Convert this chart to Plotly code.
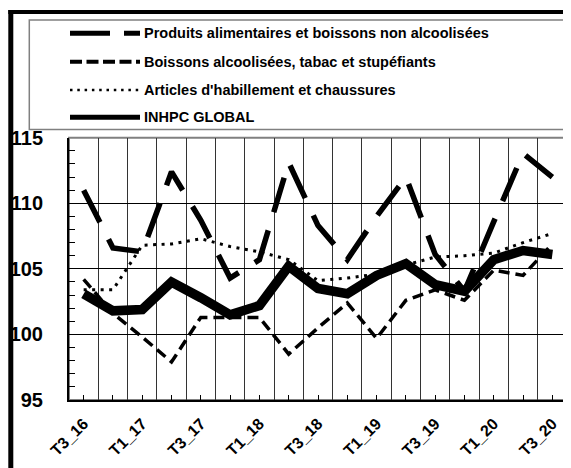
import plotly.graph_objects as go

# ---------------- data ----------------
categories = ["T3_16", "T4_16", "T1_17", "T2_17", "T3_17", "T4_17", "T1_18", "T2_18",
              "T3_18", "T4_18", "T1_19", "T2_19", "T3_19", "T4_19", "T1_20", "T2_20", "T3_20"]
food = [111.0, 106.6, 106.3, 112.4, 108.7, 104.3, 105.7, 113.1, 108.3, 105.7,
        109.0, 112.0, 106.1, 103.3, 108.6, 113.8, 112.0]
alcohol = [104.2, 101.6, 99.8, 97.9, 101.3, 101.3, 101.3, 98.5, 100.5, 102.4,
           99.7, 102.6, 103.4, 102.6, 104.9, 104.5, 106.9]
clothing = [103.4, 103.4, 106.8, 106.9, 107.3, 106.7, 106.3, 105.7, 104.1, 104.3,
            104.6, 105.3, 105.9, 106.0, 106.2, 107.0, 107.7]
global_idx = [103.1, 101.8, 101.9, 104.0, 102.8, 101.5, 102.2, 105.2, 103.5, 103.1,
              104.5, 105.4, 103.8, 103.3, 105.7, 106.4, 106.1]
series_names = ["Produits alimentaires et boissons non alcoolisées",
                "Boissons alcoolisées, tabac et stupéfiants",
                "Articles d'habillement et chaussures",
                "INHPC GLOBAL"]
y_ticks = [95, 100, 105, 110, 115]

# page has an 8px body margin: the figure is sized to fill the rest of the window
OFF = 8
W, H = 571 - OFF, 468 - OFF
FONT = "Liberation Sans, Arial, sans-serif"


def px(x):
    return (x - OFF) / W


def py(y):
    return 1 - (y - OFF) / H


xs = list(range(len(categories)))
ticktext = [c if i % 2 == 0 else "" for i, c in enumerate(categories)]

fig = go.Figure()
fig.add_trace(go.Scatter(x=xs, y=global_idx, mode="lines", name=series_names[3],
                         line=dict(color="black", width=9.5)))
fig.add_trace(go.Scatter(x=xs, y=food, mode="lines", name=series_names[0],
                         line=dict(color="black", width=5.5, dash="36px,19px")))
fig.add_trace(go.Scatter(x=xs, y=alcohol, mode="lines", name=series_names[1],
                         line=dict(color="black", width=3.5, dash="11px,6px")))
fig.add_trace(go.Scatter(x=xs, y=clothing, mode="lines", name=series_names[2],
                         line=dict(color="black", width=3, dash="3px,5.5px")))

shapes = []
# outer frame (thick black left and top border)
shapes.append(dict(type="line", xref="paper", yref="paper", x0=px(10.8), x1=px(10.8),
                   y0=py(10), y1=py(468), line=dict(color="black", width=5), layer="above"))
shapes.append(dict(type="line", xref="paper", yref="paper", x0=px(8.3), x1=px(571),
                   y0=py(12), y1=py(12), line=dict(color="black", width=4), layer="above"))
# plot-area gray frame
shapes.append(dict(type="rect", xref="x domain", yref="y domain", x0=0, x1=1, y0=0, y1=1,
                   line=dict(color="#808080", width=2), layer="below"))
# legend box
shapes.append(dict(type="rect", xref="paper", yref="paper", x0=px(29.3), x1=px(571),
                   y0=py(129.5), y1=py(20), line=dict(color="#808080", width=1.5),
                   fillcolor="white", layer="above"))
# legend samples
legend_rows = [33.3, 61.7, 90.0, 117.3]
sample_styles = [dict(width=5, dash="40px,14px"),
                 dict(width=4, dash="12px,4.5px"),
                 dict(width=2.5, dash="2.5px,4.8px"),
                 dict(width=5, dash="solid")]
for yrow, st in zip(legend_rows, sample_styles):
    shapes.append(dict(type="line", xref="paper", yref="paper", x0=px(70), x1=px(140),
                       y0=py(yrow), y1=py(yrow),
                       line=dict(color="black", width=st["width"], dash=st["dash"]),
                       layer="above"))

annotations = []
for yrow, name in zip(legend_rows, series_names):
    annotations.append(dict(xref="paper", yref="paper", x=px(142), y=py(yrow),
                            xanchor="left", yanchor="middle", text=name, showarrow=False,
                            font=dict(family=FONT, size=14.5, color="black", weight="bold")))

fig.update_layout(
    width=W, height=H,
    margin=dict(l=0, r=0, t=0, b=0, pad=0, autoexpand=False),
    paper_bgcolor="white", plot_bgcolor="white",
    showlegend=False,
    shapes=shapes, annotations=annotations,
    xaxis=dict(
        domain=[px(69), px(567)],
        range=[-0.5, len(categories) - 0.5],
        automargin=False,
        tickmode="array", tickvals=xs, ticktext=ticktext,
        tickangle=-45,
        ticks="inside", ticklen=5, tickcolor="black", tickwidth=1,
        tickfont=dict(family=FONT, size=16, color="black", weight="bold"),
        ticklabelstandoff=6,
        showgrid=False, zeroline=False,
        showline=True, linecolor="black", linewidth=2,
        minor=dict(tickmode="linear", tick0=0.5, dtick=1, showgrid=True,
                   gridcolor="#333333", gridwidth=1, ticks=""),
        fixedrange=True,
    ),
    yaxis=dict(
        domain=[py(400), py(137.7)],
        range=[95, 115],
        automargin=False,
        tickmode="array", tickvals=y_ticks,
        ticks="inside", ticklen=6, tickcolor="black",
        tickfont=dict(family=FONT, size=20, color="black", weight="bold"),
        ticklabelstandoff=20,
        showgrid=True, gridcolor="black", gridwidth=1,
        zeroline=False,
        showline=True, linecolor="black", linewidth=2,
        minor=dict(tickmode="linear", tick0=95, dtick=1, ticks="inside", ticklen=6,
                   tickcolor="black", showgrid=False),
        fixedrange=True,
    ),
)

fig.write_html("out.html")
